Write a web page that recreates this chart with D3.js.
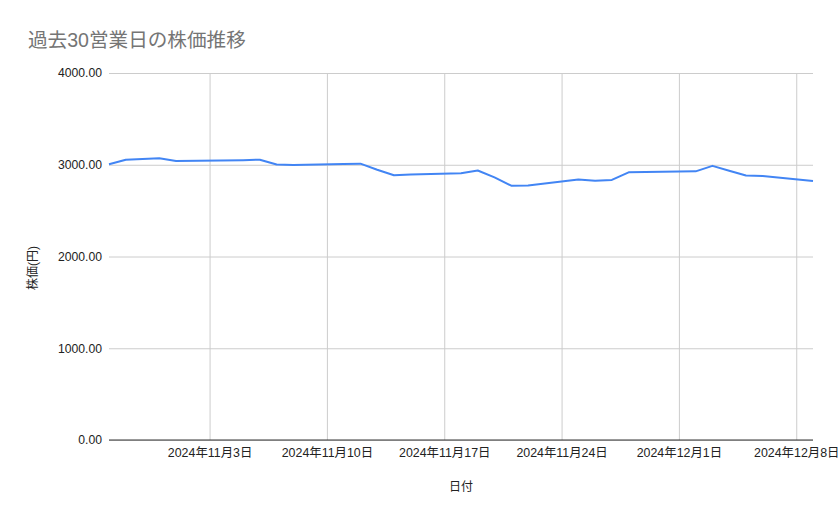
<!DOCTYPE html>
<html>
<head>
<meta charset="utf-8">
<script src="https://cdn.jsdelivr.net/npm/d3@7"></script>
<style>
  body { margin: 0; background: #fff; }
  svg text { font-family: "Liberation Sans", Arial, "Noto Sans CJK JP", sans-serif; }
</style>
</head>
<body>
<svg id="chart" width="839" height="519"></svg>
<script>
// data (business days, JP holidays skipped)
const dates = [
  '2024-10-28', '2024-10-29', '2024-10-30', '2024-10-31', '2024-11-01',
  '2024-11-05', '2024-11-06', '2024-11-07', '2024-11-08',
  '2024-11-11', '2024-11-12', '2024-11-13', '2024-11-14', '2024-11-15',
  '2024-11-18', '2024-11-19', '2024-11-20', '2024-11-21', '2024-11-22',
  '2024-11-25', '2024-11-26', '2024-11-27', '2024-11-28', '2024-11-29',
  '2024-12-02', '2024-12-03', '2024-12-04', '2024-12-05', '2024-12-06',
  '2024-12-09'
];
const prices = [
  3005, 3055, 3062, 3070, 3042,
  3050, 3055, 3002, 2998,
  3008, 3012, 2945, 2886, 2895,
  2908, 2937, 2862, 2772, 2775,
  2838, 2825, 2835, 2917, 2920,
  2928, 2988, 2935, 2882, 2877,
  2822
];
const tickDates = ['2024-11-03', '2024-11-10', '2024-11-17', '2024-11-24', '2024-12-01', '2024-12-08'];
const yTicks = [0, 1000, 2000, 3000, 4000];

const chartTitle = '過去30営業日の株価推移';
const xTitle = '日付';
const yTitle = '株価(円)';

const parse = d3.timeParse('%Y-%m-%d');
const plotLeft = 109, plotRight = 813, plotTop = 73, plotBottom = 440;

const x = d3.scaleTime()
  .domain([parse('2024-10-28'), parse('2024-12-09')])
  .range([plotLeft, plotRight]);
const y = d3.scaleLinear()
  .domain([0, 4000])
  .range([plotBottom, plotTop]);

const svg = d3.select('#chart');

// title
svg.append('text')
  .attr('x', 28)
  .attr('y', 47)
  .attr('font-size', 19.6)
  .attr('fill', '#757575')
  .text(chartTitle);

// horizontal grid + y labels
const yAxis = d3.axisLeft(y)
  .tickValues(yTicks)
  .tickSize(-(plotRight - plotLeft))
  .tickPadding(7)
  .tickFormat(d => d3.format('.2f')(d));
const gy = svg.append('g')
  .attr('transform', `translate(${plotLeft},0)`)
  .call(yAxis);
gy.select('.domain').remove();
gy.selectAll('line').attr('stroke', '#cccccc');
gy.selectAll('text').attr('font-size', 12.2).attr('fill', '#222');

// vertical grid + x labels
const xAxis = d3.axisBottom(x)
  .tickValues(tickDates.map(parse))
  .tickSize(-(plotBottom - plotTop))
  .tickPadding(8)
  .tickFormat(d => `${d.getFullYear()}年${d.getMonth() + 1}月${d.getDate()}日`);
const gx = svg.append('g')
  .attr('transform', `translate(0,${plotBottom})`)
  .call(xAxis);
gx.select('.domain').remove();
gx.selectAll('line').attr('stroke', '#cccccc');
gx.selectAll('text').attr('font-size', 12.4).attr('fill', '#222');

// baseline
svg.append('line')
  .attr('x1', plotLeft)
  .attr('x2', plotRight)
  .attr('y1', y(0))
  .attr('y2', y(0))
  .attr('stroke', '#333');

// price line
const line = d3.line()
  .x((d, i) => x(parse(dates[i])))
  .y(d => y(d));
svg.append('path')
  .datum(prices)
  .attr('d', line)
  .attr('fill', 'none')
  .attr('stroke', '#4285f4')
  .attr('stroke-width', 2)
  .attr('stroke-linejoin', 'round');

// axis titles
svg.append('text')
  .attr('x', (plotLeft + plotRight) / 2)
  .attr('y', 491)
  .attr('text-anchor', 'middle')
  .attr('font-size', 12)
  .attr('fill', '#222')
  .text(xTitle);

svg.append('text')
  .attr('transform', 'translate(37,268) rotate(-90)')
  .attr('text-anchor', 'middle')
  .attr('font-size', 12)
  .attr('fill', '#222')
  .text(yTitle);
</script>
</body>
</html>
